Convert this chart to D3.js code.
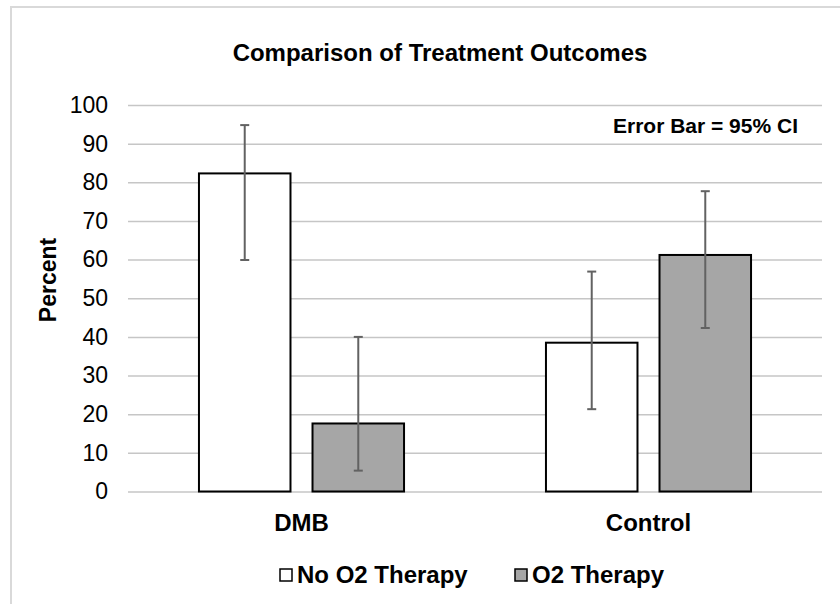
<!DOCTYPE html>
<html><head><meta charset="utf-8">
<script src="https://cdn.jsdelivr.net/npm/d3@7"></script>
<style>body{margin:0;background:#fff}svg{display:block}text{font-family:"Liberation Sans",Arial,sans-serif}</style>
</head><body>
<svg id="c" width="840" height="604"></svg>
<script>
const categories = ["DMB", "Control"];
const seriesNames = ["No O2 Therapy", "O2 Therapy"];
const seriesColors = ["#ffffff", "#a6a6a6"];
const values = [[82.3, 17.6], [38.5, 61.2]];
const errLow = [[59.9, 5.4], [21.3, 42.3]];
const errHigh = [[94.8, 40.0], [56.9, 77.7]];
const yTicks = [0, 10, 20, 30, 40, 50, 60, 70, 80, 90, 100];

const svg = d3.select("#c");
const pLeft = 128, pRight = 822, pTop = 105, pBottom = 491.5;

svg.append("rect").attr("x", 11).attr("y", 7).attr("width", 850).attr("height", 620)
  .attr("fill", "#fff").attr("stroke", "#d9d9d9").attr("stroke-width", 2);

const y = d3.scaleLinear().domain([0, 100]).range([pBottom, pTop]);
const x0 = d3.scaleBand().domain(categories).range([pLeft, pRight]).paddingInner(0.409).paddingOuter(0.2045);
const x1 = d3.scaleBand().domain(seriesNames).range([0, x0.bandwidth()]).paddingInner(0.194).paddingOuter(0);

// gridlines
const yAxis = d3.axisLeft(y).tickValues(yTicks).tickSize(-(pRight - pLeft)).tickPadding(20);
const ga = svg.append("g").attr("transform", `translate(${pLeft},0)`).call(yAxis);
ga.select(".domain").remove();
ga.selectAll(".tick line").attr("stroke", "#c6c6c6").attr("stroke-width", 1.5);
ga.selectAll(".tick text").attr("font-size", 23).attr("fill", "#000")
  .attr("font-family", '"Liberation Sans",Arial,sans-serif');

// bars
const groups = svg.append("g").selectAll("g").data(categories).join("g")
  .attr("transform", d => `translate(${x0(d)},0)`);
groups.selectAll("rect").data((d, i) => seriesNames.map((s, j) => ({s, j, v: values[i][j]})))
  .join("rect")
  .attr("x", d => x1(d.s)).attr("width", x1.bandwidth())
  .attr("y", d => y(d.v)).attr("height", d => y(0) - y(d.v))
  .attr("fill", d => seriesColors[d.j]).attr("stroke", "#000").attr("stroke-width", 2);

// error bars
const eb = groups.selectAll("g.eb").data((d, i) => seriesNames.map((s, j) => ({s, lo: errLow[i][j], hi: errHigh[i][j]})))
  .join("g").attr("class", "eb").attr("stroke", "#626262").attr("stroke-width", 2);
const cx = d => x1(d.s) + x1.bandwidth() / 2;
eb.append("line").attr("x1", cx).attr("x2", cx).attr("y1", d => y(d.lo)).attr("y2", d => y(d.hi));
eb.append("line").attr("x1", d => cx(d) - 4.5).attr("x2", d => cx(d) + 4.5).attr("y1", d => y(d.hi)).attr("y2", d => y(d.hi));
eb.append("line").attr("x1", d => cx(d) - 4.5).attr("x2", d => cx(d) + 4.5).attr("y1", d => y(d.lo)).attr("y2", d => y(d.lo));

// category labels
const xAxis = d3.axisBottom(x0).tickSize(0).tickPadding(22);
const gx = svg.append("g").attr("transform", `translate(0,${pBottom})`).call(xAxis);
gx.select(".domain").remove();
gx.selectAll(".tick text").attr("font-size", 24).attr("font-weight", "bold").attr("fill", "#000")
  .attr("font-family", '"Liberation Sans",Arial,sans-serif');

// title
svg.append("text").attr("x", 440).attr("y", 61).attr("text-anchor", "middle")
  .attr("font-size", 24).attr("font-weight", "bold").text("Comparison of Treatment Outcomes");

// y title
svg.append("text").attr("transform", `translate(56,280) rotate(-90)`)
  .attr("text-anchor", "middle").attr("font-size", 23).attr("font-weight", "bold").text("Percent");

// annotation
svg.append("text").attr("x", 798).attr("y", 133).attr("text-anchor", "end")
  .attr("font-size", 21).attr("font-weight", "bold").text("Error Bar = 95% CI");

// legend
const legX = [280, 515];
const lg = svg.append("g").selectAll("g").data(seriesNames).join("g")
  .attr("transform", (d, i) => `translate(${legX[i]},569)`);
lg.append("rect").attr("width", 12).attr("height", 12).attr("fill", (d, i) => seriesColors[i])
  .attr("stroke", "#000").attr("stroke-width", 1.5);
lg.append("text").attr("x", 17).attr("y", 14).attr("font-size", 24).attr("font-weight", "bold").text(d => d);
</script>
</body></html>
